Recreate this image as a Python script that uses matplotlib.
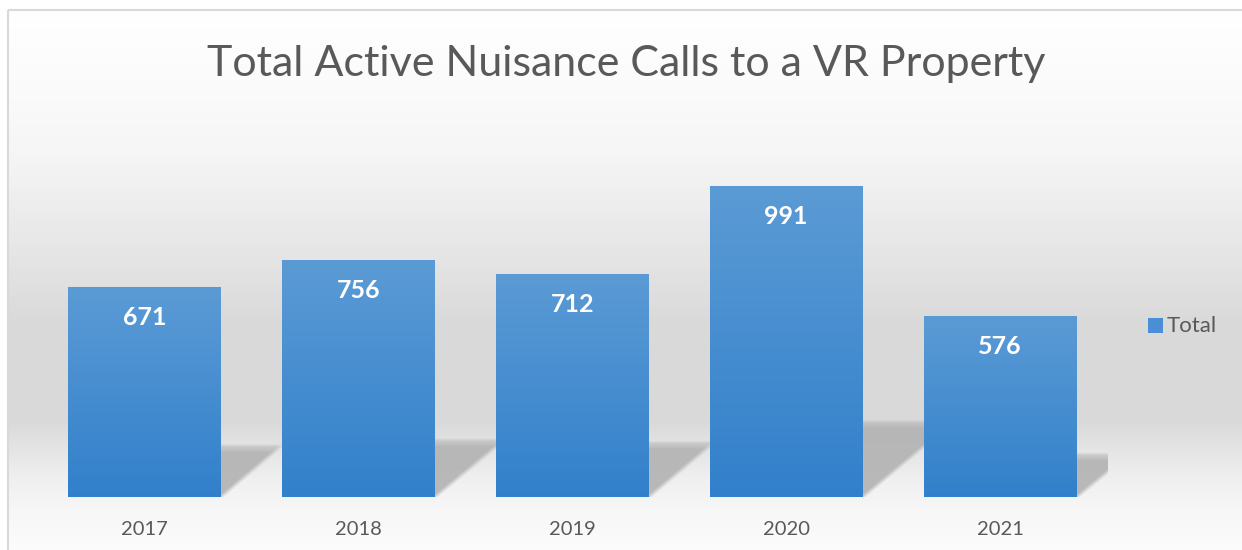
import numpy as np
import matplotlib
matplotlib.use("Agg")
import matplotlib.pyplot as plt
from matplotlib.patches import Rectangle
from matplotlib.colors import LinearSegmentedColormap

# ---- data ----
years = ["2017", "2018", "2019", "2020", "2021"]
totals = [671, 756, 712, 991, 576]
title = "Total Active Nuisance Calls to a VR Property"
series_name = "Total"

W, H = 1242, 550
fig = plt.figure(figsize=(W / 100, H / 100), dpi=100)

# ---- background gradient (whole chart area) ----
bg = fig.add_axes([0, 0, 1, 1], zorder=-10)
bg.set_xlim(0, W)
bg.set_ylim(H, 0)
bg.axis("off")
ys = np.arange(H)
stops_y = [0, 10, 100, 150, 250, 320, 420, 450, 480, 510, 550]
stops_v = [255, 255, 250, 246, 230, 218, 217, 229, 240, 247, 252]
col = np.interp(ys, stops_y, stops_v) / 255.0
img = np.repeat(col[:, None], 2, axis=1)
bg.imshow(np.dstack([img] * 3), extent=[0, W, H, 0], aspect="auto", interpolation="bilinear")
bg.add_patch(Rectangle((0, 0), 7, H, facecolor="white", edgecolor="none"))
bg.add_patch(Rectangle((0, 0), W, 10, facecolor="white", edgecolor="none"))
bg.add_patch(Rectangle((7.5, 10), W, H, fill=False, edgecolor="#d9d9d9", lw=1.5))

# ---- main axes ----
left_px, right_px = 37.5, 1107.0
base_px = 497.0
px_per_unit = 0.3134
ymax = 1000
ax = fig.add_axes([left_px / W, (H - base_px) / H, (right_px - left_px) / W,
                   ymax * px_per_unit / H])
ax.patch.set_visible(False)
x = np.arange(len(years))
width = 0.715
ax.set_xlim(-0.5, len(years) - 0.5)
ax.set_ylim(0, ymax)
for s in ax.spines.values():
    s.set_visible(False)
ax.set_yticks([])
ax.set_xticks(x)
ax.set_xticklabels(years, fontsize=14.5, color="#595959", family="Lato")
ax.tick_params(axis="x", length=0, pad=17)

# soft perspective shadows, derived from each bar's height
unit_x_px = (right_px - left_px) / len(years)
blur = 7.0
for xi, v in zip(x, totals):
    h_px = 0.25 * v * px_per_unit
    dx_px = 1.2 * h_px
    wpx = int(dx_px + 3 * blur)
    hpx = int(round(h_px))
    uu, vv = np.meshgrid(np.arange(wpx) + 0.5, np.arange(hpx) + 0.5)
    ud = vv * dx_px / h_px
    a_diag = np.clip(0.5 + (ud - uu) / blur, 0, 1)
    a_top = np.clip((h_px - vv) / 9.0, 0, 1)
    alpha = a_diag * (0.35 + 0.65 * a_top) * np.clip((h_px - vv) / 3.0, 0, 1)
    rgba = np.zeros((hpx, wpx, 4))
    rgba[..., :3] = 0.70
    rgba[..., 3] = alpha * 0.9
    xr = xi + width / 2
    ax.imshow(rgba, extent=[xr, xr + wpx / unit_x_px, 0, hpx / px_per_unit],
              origin="lower", aspect="auto", zorder=1, interpolation="bilinear")

# bars with vertical gradient
bars = ax.bar(x, totals, width=width, color="#4a8fd6", zorder=2, label=series_name)
bar_cmap = LinearSegmentedColormap.from_list("bar", ["#3280cb", "#5b9bd5"])
for b in bars:
    bx, by, bw, bh = b.get_x(), b.get_y(), b.get_width(), b.get_height()
    grad = np.linspace(0, 1, 128)[:, None]
    im = ax.imshow(grad, extent=[bx, bx + bw, by, by + bh], origin="lower",
                   cmap=bar_cmap, aspect="auto", zorder=2.1, interpolation="bilinear")
    im.set_clip_path(b)

# value labels
for xi, v in zip(x, totals):
    ax.annotate(str(v), (xi, v), xytext=(0, -38 * 0.72), textcoords="offset points",
                ha="center", va="baseline", color="white", fontsize=18,
                fontweight="bold", family="Lato", zorder=5)

# legend
fig.patches.append(Rectangle((1148 / W, 1 - 333 / H), 15 / W, 15 / H,
                             transform=fig.transFigure, facecolor="#4a8fd6",
                             edgecolor="none", figure=fig))
fig.text(1167 / W, 1 - 332 / H, series_name, fontsize=16, color="#595959",
         family="Lato", ha="left", va="baseline")

# title
fig.text(626 / W, 1 - 76 / H, title, fontsize=31, color="#595959",
         family="Lato", fontweight="normal", ha="center", va="baseline")

fig.savefig("out.png", dpi=100)
